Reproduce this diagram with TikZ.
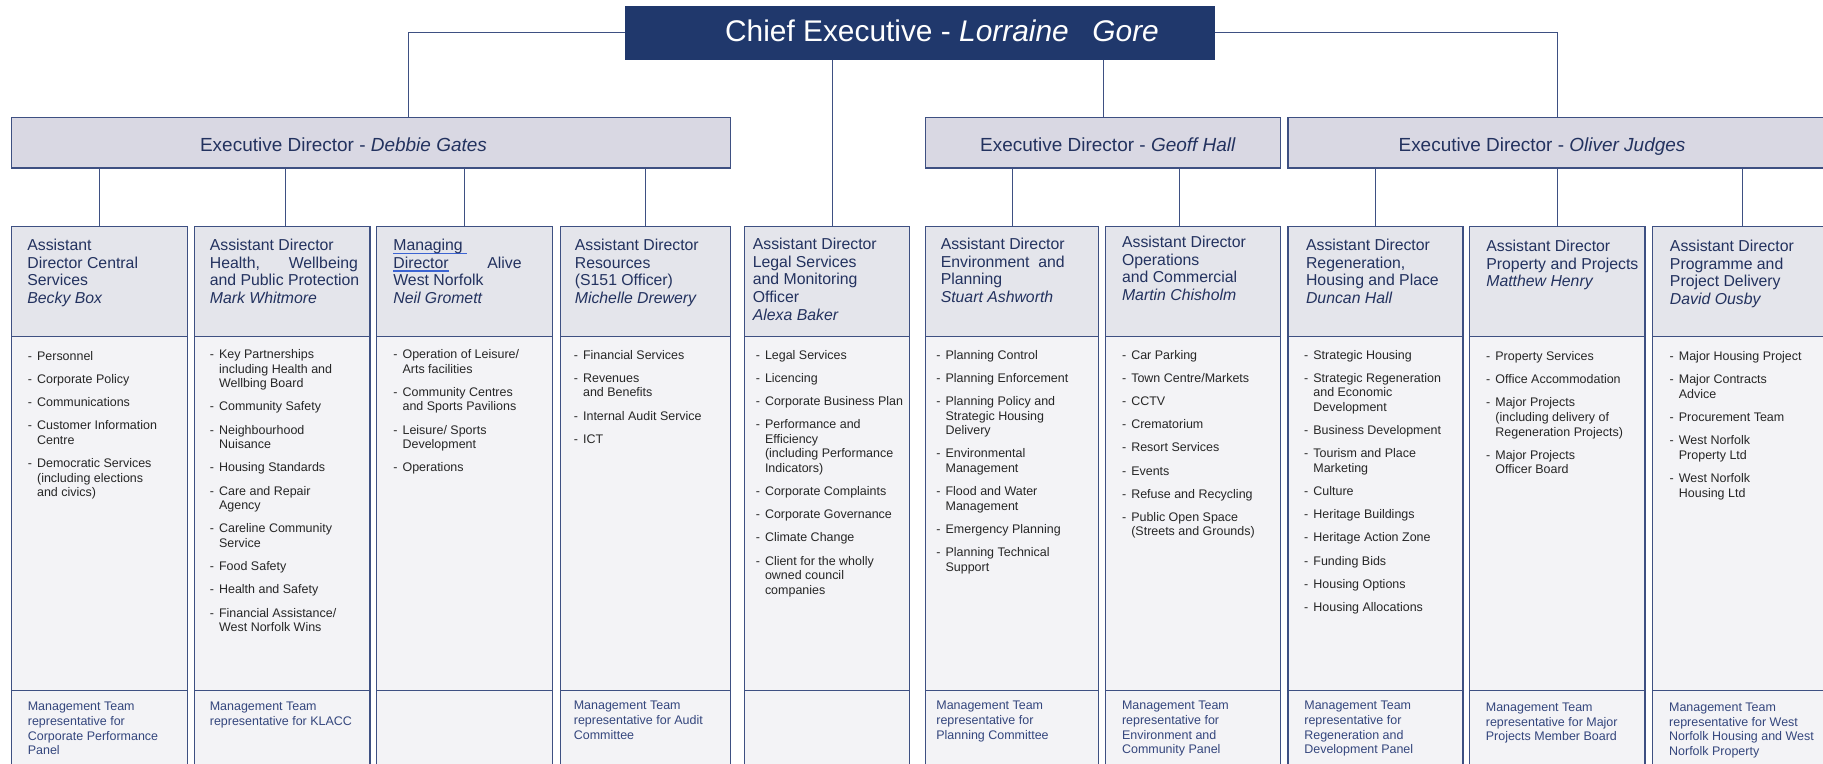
\documentclass[tikz,border=0pt]{standalone}
\usepackage{fontspec}
\setmainfont{Liberation Sans}
\usepackage{tikz}
\definecolor{chiefblue}{RGB}{32,56,108}
\definecolor{execfill}{RGB}{217,216,227}
\definecolor{boxline}{RGB}{62,80,130}
\definecolor{headfill}{RGB}{228,229,235}
\definecolor{bodyfill}{RGB}{243,243,246}
\definecolor{headtext}{RGB}{35,50,95}
\definecolor{bodytext}{RGB}{38,38,38}
\definecolor{foottext}{RGB}{52,70,125}
\definecolor{linkblue}{RGB}{60,100,210}
\newcommand{\nxt}{\\[4.9pt]}
\newsavebox{\ulbox}
\newcommand{\linkul}[1]{\leavevmode\sbox{\ulbox}{#1}\rlap{\textcolor{linkblue}{\rule[-1.8pt]{\wd\ulbox}{0.7pt}}}\usebox{\ulbox}}
\tikzstyle{chief} = [rectangle, anchor=north west, minimum width=11.78cm, minimum height=1.06cm, fill=chiefblue, draw=chiefblue]
\tikzstyle{execbox} = [rectangle, anchor=north west, minimum height=1.01cm, fill=execfill, draw=boxline, line width=0.8pt]
\tikzstyle{adhead} = [rectangle, anchor=north west, minimum height=2.2cm, fill=headfill, draw=boxline, line width=0.8pt]
\tikzstyle{adbody} = [rectangle, anchor=north west, minimum height=7.08cm, fill=bodyfill, draw=boxline, line width=0.8pt]
\tikzstyle{adfoot} = [rectangle, anchor=north west, minimum height=2.2cm, fill=bodyfill, draw=boxline, line width=0.8pt]
\tikzstyle{chieftxt} = [anchor=base, inner sep=0pt, text=white, font=\fontsize{17}{20}\selectfont]
\tikzstyle{exectxt} = [anchor=base, inner sep=0pt, text=headtext, font=\fontsize{10.8}{13}\selectfont]
\tikzstyle{headtxt} = [anchor=north west, inner sep=0pt, align=left, text=headtext, font=\fontsize{9}{10}\selectfont]
\tikzstyle{listtxt} = [anchor=north west, inner sep=0pt, text=bodytext, font=\fontsize{7.1}{8.3}\selectfont]
\tikzstyle{foottxt} = [anchor=north west, inner sep=0pt, align=left, text=foottext, font=\fontsize{7.1}{8.3}\selectfont]
\tikzstyle{conn} = [draw=boxline, line width=0.6pt]

\begin{document}
\begin{tikzpicture}[x=0.02cm, y=-0.02cm]
\useasboundingbox (0,0) rectangle (1823,764);
\clip (0,0) rectangle (1823,764);
\node[chief] (chief) at (625,6) {};
\node[chieftxt] (chieft) at (942,41.7) {Chief Executive - \textit{Lorraine}\hspace{13.5pt}\textit{Gore}};
\node[execbox, minimum width=14.38cm] (debbie) at (11,116.7) {};
\node[execbox, minimum width=7.1cm] (geoff) at (925,116.7) {};
\node[execbox, minimum width=10.78cm] (oliver) at (1287.4,116.7) {};
\node[exectxt] (debbiet) at (343.5,151.7) {Executive Director - \textit{Debbie Gates}};
\node[exectxt] (grofft) at (1108,151.7) {Executive Director - \textit{Geoff Hall}};
\node[exectxt] (olivert) at (1542,151.7) {Executive Director - \textit{Oliver Judges}};

\node[adhead, minimum width=3.52cm] (h1) at (11,226) {};
\node[adbody, minimum width=3.52cm] (b1) at (11,336) {};
\node[adfoot, minimum width=3.52cm] (f1) at (11,690) {};
\node[adhead, minimum width=3.52cm] (h2) at (193.5,226) {};
\node[adbody, minimum width=3.52cm] (b2) at (193.5,336) {};
\node[adfoot, minimum width=3.52cm] (f2) at (193.5,690) {};
\node[adhead, minimum width=3.52cm] (h3) at (376,226) {};
\node[adbody, minimum width=3.52cm] (b3) at (376,336) {};
\node[adfoot, minimum width=3.52cm] (f3) at (376,690) {};
\node[adhead, minimum width=3.41cm] (h4) at (559.5,226) {};
\node[adbody, minimum width=3.41cm] (b4) at (559.5,336) {};
\node[adfoot, minimum width=3.41cm] (f4) at (559.5,690) {};
\node[adhead, minimum width=3.3cm] (h5) at (744,226) {};
\node[adbody, minimum width=3.3cm] (b5) at (744,336) {};
\node[adfoot, minimum width=3.3cm] (f5) at (744,690) {};
\node[adhead, minimum width=3.46cm] (h6) at (925,226) {};
\node[adbody, minimum width=3.46cm] (b6) at (925,336) {};
\node[adfoot, minimum width=3.46cm] (f6) at (925,690) {};
\node[adhead, minimum width=3.5cm] (h7) at (1104.7,226) {};
\node[adbody, minimum width=3.5cm] (b7) at (1104.7,336) {};
\node[adfoot, minimum width=3.5cm] (f7) at (1104.7,690) {};
\node[adhead, minimum width=3.5cm] (h8) at (1287.4,226) {};
\node[adbody, minimum width=3.5cm] (b8) at (1287.4,336) {};
\node[adfoot, minimum width=3.5cm] (f8) at (1287.4,690) {};
\node[adhead, minimum width=3.51cm] (h9) at (1469,226) {};
\node[adbody, minimum width=3.51cm] (b9) at (1469,336) {};
\node[adfoot, minimum width=3.51cm] (f9) at (1469,690) {};
\node[adhead, minimum width=3.6cm] (h10) at (1652,226) {};
\node[adbody, minimum width=3.6cm] (b10) at (1652,336) {};
\node[adfoot, minimum width=3.6cm] (f10) at (1652,690) {};

\node[headtxt] (h1t) at ([shift={(16,13)}]h1.north west) {Assistant\\Director Central\\Services\\\textit{Becky Box}};
\node[headtxt] (h2t) at ([shift={(16,13)}]h2.north west) {Assistant Director\\Health,\hspace{16.4pt}Wellbeing\\and Public Protection\\\textit{Mark Whitmore}};
\node[headtxt] (h3t) at ([shift={(17,13)}]h3.north west) {\linkul{Managing\ }\\\linkul{Director}\hspace{22pt}Alive\\West Norfolk\\\textit{Neil Gromett}};
\node[headtxt] (h4t) at ([shift={(15,13)}]h4.north west) {Assistant Director\\Resources\\(S151 Officer)\\\textit{Michelle Drewery}};
\node[headtxt] (h5t) at ([shift={(8.5,12)}]h5.north west) {Assistant Director\\Legal Services\\and Monitoring\\Officer\\\textit{Alexa Baker}};
\node[headtxt] (h6t) at ([shift={(15.4,12)}]h6.north west) {Assistant Director\\Environment\ \ and\\Planning\\\textit{Stuart Ashworth}};
\node[headtxt] (h7t) at ([shift={(17,10)}]h7.north west) {Assistant Director\\Operations\\and Commercial\\\textit{Martin Chisholm}};
\node[headtxt] (h8t) at ([shift={(18.3,13)}]h8.north west) {Assistant Director\\Regeneration,\\Housing and Place\\\textit{Duncan Hall}};
\node[headtxt] (h9t) at ([shift={(17,14)}]h9.north west) {Assistant Director\\Property and Projects\\\textit{Matthew Henry}};
\node[headtxt] (h10t) at ([shift={(17.6,14)}]h10.north west) {Assistant Director\\Programme and\\Project Delivery\\\textit{David Ousby}};

\node[listtxt] (b1t) at ([shift={(16.5,13.75)}]b1.north west) {\begin{tabular}{@{}l@{\hspace{2.9pt}}l@{}}
- & Personnel\nxt
- & Corporate Policy\nxt
- & Communications\nxt
- & Customer Information\\ & Centre\nxt
- & Democratic Services\\ & (including elections\\ & and civics)
\end{tabular}};
\node[listtxt] (b2t) at ([shift={(16,12)}]b2.north west) {\begin{tabular}{@{}l@{\hspace{2.9pt}}l@{}}
- & Key Partnerships\\ & including Health and\\ & Wellbing Board\nxt
- & Community Safety\nxt
- & Neighbourhood\\ & Nuisance\nxt
- & Housing Standards\nxt
- & Care and Repair\\ & Agency\nxt
- & Careline Community\\ & Service\nxt
- & Food Safety\nxt
- & Health and Safety\nxt
- & Financial Assistance/\\ & West Norfolk Wins
\end{tabular}};
\node[listtxt] (b3t) at ([shift={(17,12)}]b3.north west) {\begin{tabular}{@{}l@{\hspace{2.9pt}}l@{}}
- & Operation of Leisure/\\ & Arts facilities\nxt
- & Community Centres\\ & and Sports Pavilions\nxt
- & Leisure/ Sports\\ & Development\nxt
- & Operations
\end{tabular}};
\node[listtxt] (b4t) at ([shift={(14,12.5)}]b4.north west) {\begin{tabular}{@{}l@{\hspace{2.9pt}}l@{}}
- & Financial Services\nxt
- & Revenues\\ & and Benefits\nxt
- & Internal Audit Service\nxt
- & ICT
\end{tabular}};
\node[listtxt] (b5t) at ([shift={(11.4,12.5)}]b5.north west) {\begin{tabular}{@{}l@{\hspace{2.9pt}}l@{}}
- & Legal Services\nxt
- & Licencing\nxt
- & Corporate Business Plan\nxt
- & Performance and\\ & Efficiency\\ & (including Performance\\ & Indicators)\nxt
- & Corporate Complaints\nxt
- & Corporate Governance\nxt
- & Climate Change\nxt
- & Client for the wholly\\ & owned council\\ & companies
\end{tabular}};
\node[listtxt] (b6t) at ([shift={(11,12.5)}]b6.north west) {\begin{tabular}{@{}l@{\hspace{2.9pt}}l@{}}
- & Planning Control\nxt
- & Planning Enforcement\nxt
- & Planning Policy and\\ & Strategic Housing\\ & Delivery\nxt
- & Environmental\\ & Management\nxt
- & Flood and Water\\ & Management\nxt
- & Emergency Planning\nxt
- & Planning Technical\\ & Support
\end{tabular}};
\node[listtxt] (b7t) at ([shift={(17,12.5)}]b7.north west) {\begin{tabular}{@{}l@{\hspace{2.9pt}}l@{}}
- & Car Parking\nxt
- & Town Centre/Markets\nxt
- & CCTV\nxt
- & Crematorium\nxt
- & Resort Services\nxt
- & Events\nxt
- & Refuse and Recycling\nxt
- & Public Open Space\\ & (Streets and Grounds)
\end{tabular}};
\node[listtxt] (b8t) at ([shift={(16.4,12.5)}]b8.north west) {\begin{tabular}{@{}l@{\hspace{2.9pt}}l@{}}
- & Strategic Housing\nxt
- & Strategic Regeneration\\ & and Economic\\ & Development\nxt
- & Business Development\nxt
- & Tourism and Place\\ & Marketing\nxt
- & Culture\nxt
- & Heritage Buildings\nxt
- & Heritage Action Zone\nxt
- & Funding Bids\nxt
- & Housing Options\nxt
- & Housing Allocations
\end{tabular}};
\node[listtxt] (b9t) at ([shift={(16.8,14)}]b9.north west) {\begin{tabular}{@{}l@{\hspace{2.9pt}}l@{}}
- & Property Services\nxt
- & Office Accommodation\nxt
- & Major Projects\\ & (including delivery of\\ & Regeneration Projects)\nxt
- & Major Projects\\ & Officer Board
\end{tabular}};
\node[listtxt] (b10t) at ([shift={(17.3,14)}]b10.north west) {\begin{tabular}{@{}l@{\hspace{2.9pt}}l@{}}
- & Major Housing Project\nxt
- & Major Contracts\\ & Advice\nxt
- & Procurement Team\nxt
- & West Norfolk\\ & Property Ltd\nxt
- & West Norfolk\\ & Housing Ltd
\end{tabular}};

\node[foottxt] (f1t) at ([shift={(16.5,12)}]f1.north west) {Management Team\\representative for\\Corporate Performance\\Panel};
\node[foottxt] (f2t) at ([shift={(16,12)}]f2.north west) {Management Team\\representative for KLACC};
\node[foottxt] (f4t) at ([shift={(14,11)}]f4.north west) {Management Team\\representative for Audit\\Committee};
\node[foottxt] (f6t) at ([shift={(11,11)}]f6.north west) {Management Team\\representative for\\Planning Committee};
\node[foottxt] (f7t) at ([shift={(17,11)}]f7.north west) {Management Team\\representative for\\Environment and\\Community Panel};
\node[foottxt] (f8t) at ([shift={(16.6,11)}]f8.north west) {Management Team\\representative for\\Regeneration and\\Development Panel};
\node[foottxt] (f9t) at ([shift={(16.5,12.5)}]f9.north west) {Management Team\\representative for Major\\Projects Member Board};
\node[foottxt] (f10t) at ([shift={(16.8,12.5)}]f10.north west) {Management Team\\representative for West\\Norfolk Housing and West\\Norfolk Property};

\draw[conn] (chief.west) -| ([xshift=0.75cm]debbie.north);
\draw[conn] (chief.east) -| (oliver.north);
\draw[conn] (chief.south -| geoff.north) -- (geoff.north);
\draw[conn] ([xshift=0.1cm]h5.north |- chief.south) -- ([xshift=0.1cm]h5.north);
\draw[conn] (debbie.south -| h1.north) -- (h1.north);
\draw[conn] ([xshift=0.07cm]h2.north |- debbie.south) -- ([xshift=0.07cm]h2.north);
\draw[conn] (debbie.south -| h3.north) -- (h3.north);
\draw[conn] (debbie.south -| h4.north) -- (h4.north);
\draw[conn] (geoff.south -| h6.north) -- (h6.north);
\draw[conn] ([xshift=-0.26cm]h7.north |- geoff.south) -- ([xshift=-0.26cm]h7.north);
\draw[conn] (oliver.south -| h8.north) -- (h8.north);
\draw[conn] (oliver.south -| h9.north) -- (h9.north);
\draw[conn] (oliver.south -| h10.north) -- (h10.north);
\end{tikzpicture}
\end{document}
